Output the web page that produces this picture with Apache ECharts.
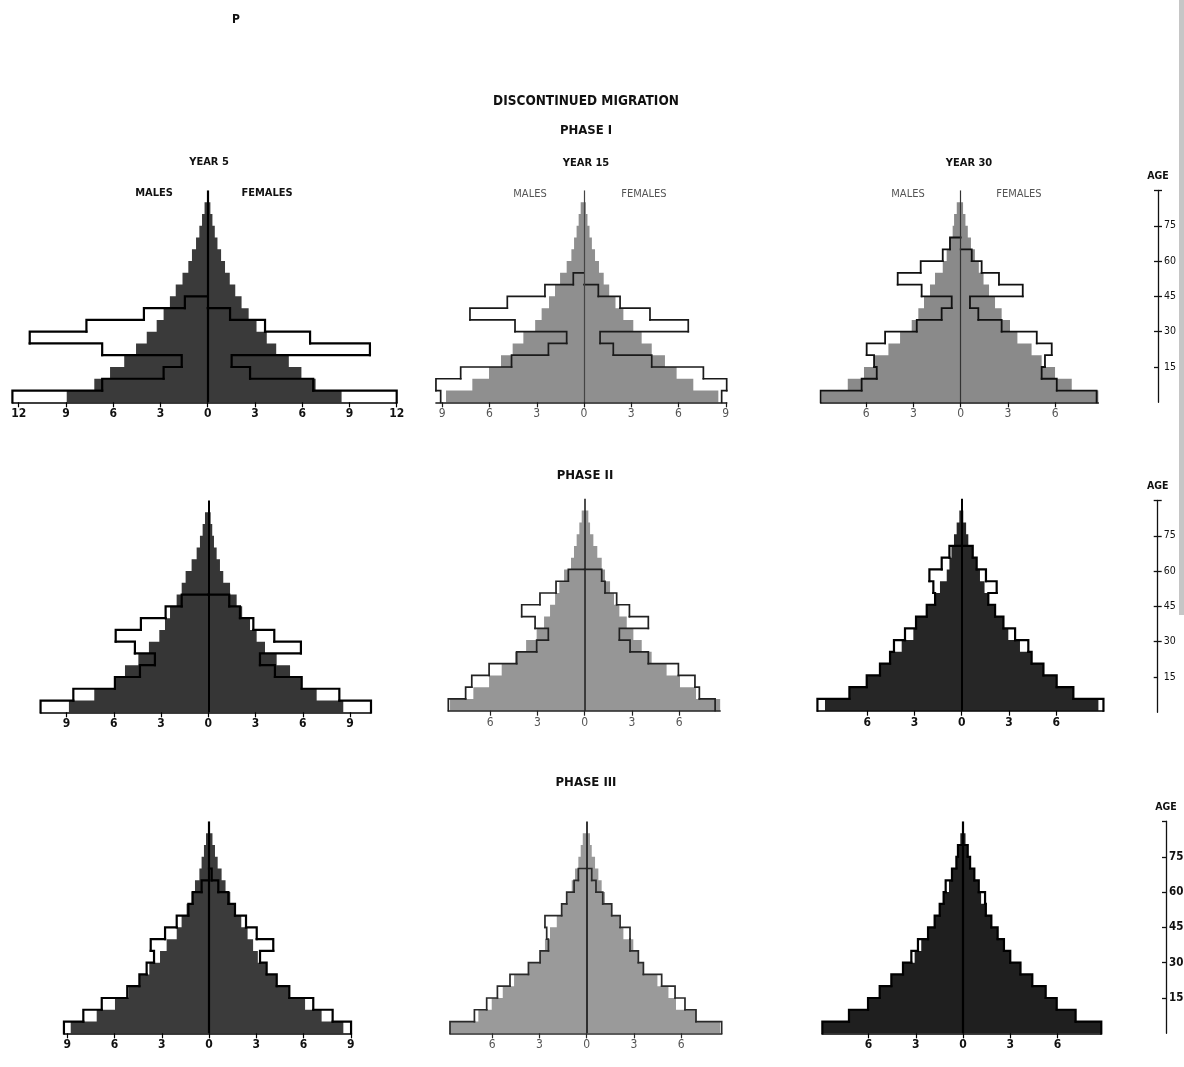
<!DOCTYPE html>
<html><head><meta charset="utf-8">
<script src="https://cdn.jsdelivr.net/npm/echarts@6/dist/echarts.min.js"></script>
<style>html,body{margin:0;padding:0;background:#fff}#c{width:1184px;height:1067px}</style>
</head><body><div id="c"></div>
<script>
// ---------- DATA (percent of total population per 5-year age group) ----------
const AGE_GROUPS = ['0-4','5-9','10-14','15-19','20-24','25-29','30-34','35-39','40-44','45-49','50-54','55-59','60-64','65-69','70-74','75-79','80-84','85-89'];
const AGE_TICKS = [15, 30, 45, 60, 75];
const AGE_MARKS = [15, 30, 45, 60, 75, 90];
const TICKS_12 = [-12, -9, -6, -3, 0, 3, 6, 9, 12];
const TICKS_9 = [-9, -6, -3, 0, 3, 6, 9];
const TICKS_6 = [-6, -3, 0, 3, 6];

// Phase I
const p1y5MaleFill = [8.95, 7.2, 6.2, 5.3, 4.55, 3.87, 3.24, 2.8, 2.4, 2.03, 1.6, 1.23, 1.0, 0.74, 0.53, 0.36, 0.2];
const p1y5FemaleFill = [8.5, 6.85, 5.95, 5.15, 4.35, 3.75, 3.1, 2.6, 2.15, 1.75, 1.4, 1.1, 0.85, 0.62, 0.45, 0.3, 0.17];
const p1y5MaleOutline = [12.4, 6.7, 2.8, 1.65, 6.7, 11.3, 7.7, 4.05, 1.45];
const p1y5FemaleOutline = [12.0, 6.7, 2.69, 1.52, 10.3, 6.5, 3.64, 1.42];

const p1y15MaleFill = [8.76, 7.09, 6.03, 5.27, 4.53, 3.85, 3.1, 2.69, 2.22, 1.84, 1.52, 1.1, 0.8, 0.63, 0.47, 0.34, 0.21];
const p1y15FemaleFill = [8.53, 6.94, 5.88, 5.14, 4.3, 3.66, 3.13, 2.5, 2.0, 1.6, 1.25, 0.95, 0.7, 0.5, 0.35, 0.22, 0.12];
const p1y15MaleOutline = [9.1, 9.4, 7.83, 4.6, 2.26, 1.1, 4.38, 7.24, 4.87, 2.48, 0.68];
const p1y15FemaleOutline = [8.74, 9.06, 7.58, 4.3, 1.86, 1.02, 6.62, 4.19, 2.29, 0.91];

const p1y30MaleFill = [8.83, 7.17, 6.14, 5.5, 4.59, 3.85, 3.11, 2.69, 2.33, 1.95, 1.63, 1.14, 0.89, 0.72, 0.51, 0.42, 0.25];
const p1y30FemaleFill = [8.74, 7.05, 5.99, 5.14, 4.5, 3.6, 3.13, 2.6, 2.18, 1.8, 1.45, 1.15, 0.9, 0.65, 0.45, 0.3, 0.15];
const p1y30MaleOutline = [8.89, 6.29, 5.33, 5.5, 5.97, 4.8, 2.79, 1.21, 0.57, 2.48, 4.0, 2.54, 1.14, 0.68];
const p1y30FemaleOutline = [8.63, 6.1, 5.14, 5.35, 5.78, 4.83, 2.6, 1.12, 0.59, 3.94, 2.43, 1.33, 0.7];

// Phase II
const p2y5MaleFill = [8.85, 7.24, 5.93, 5.29, 4.44, 3.77, 3.11, 2.75, 2.43, 2.01, 1.69, 1.44, 1.06, 0.74, 0.53, 0.36, 0.21];
const p2y5FemaleFill = [8.57, 6.88, 5.93, 5.19, 4.34, 3.6, 3.07, 2.65, 2.15, 1.8, 1.38, 0.95, 0.74, 0.53, 0.36, 0.25, 0.15];
const p2y5MaleOutline = [10.65, 8.57, 5.93, 4.34, 3.39, 4.66, 5.88, 4.28, 2.71, 1.69];
const p2y5FemaleOutline = [10.33, 8.32, 5.93, 4.23, 3.28, 5.88, 4.19, 2.86, 2.01, 1.33];

const p2y15MaleFill = [8.55, 7.07, 6.07, 5.27, 4.42, 3.72, 3.05, 2.58, 2.2, 1.88, 1.61, 1.31, 0.87, 0.68, 0.51, 0.34, 0.19];
const p2y15FemaleFill = [8.6, 7.07, 6.05, 5.2, 4.25, 3.62, 3.09, 2.67, 2.2, 1.86, 1.61, 1.29, 1.08, 0.8, 0.55, 0.34, 0.23];
const p2y15MaleOutline = [8.66, 7.56, 7.17, 6.07, 4.32, 3.05, 2.31, 3.15, 4.0, 2.84, 1.82, 1.04];
const p2y15FemaleOutline = [8.28, 7.28, 7.0, 5.95, 4.04, 2.88, 2.2, 4.04, 2.84, 2.03, 1.29, 1.08];

const p2y30MaleFill = [8.68, 7.13, 6.03, 5.19, 4.55, 3.81, 3.07, 2.9, 2.22, 1.69, 1.38, 0.95, 0.78, 0.65, 0.49, 0.32, 0.15];
const p2y30FemaleFill = [8.68, 7.09, 6.03, 5.19, 4.44, 3.7, 2.96, 2.65, 2.12, 1.69, 1.45, 1.16, 0.95, 0.7, 0.42, 0.28, 0.1];
const p2y30MaleOutline = [9.16, 7.13, 6.03, 5.19, 4.55, 4.3, 3.6, 2.9, 2.22, 1.69, 1.8, 2.05, 1.27, 0.78];
const p2y30FemaleOutline = [9.0, 7.09, 6.03, 5.19, 4.44, 4.23, 3.39, 2.65, 2.12, 1.69, 2.22, 1.54, 0.95, 0.7];

// Phase III
const p3y5MaleFill = [8.78, 7.13, 5.97, 5.12, 4.42, 3.79, 3.11, 2.69, 2.05, 1.74, 1.42, 1.1, 0.89, 0.61, 0.47, 0.32, 0.19];
const p3y5FemaleFill = [8.53, 7.15, 6.1, 5.1, 4.3, 3.66, 3.1, 2.8, 2.45, 2.05, 1.7, 1.35, 1.05, 0.8, 0.55, 0.38, 0.22];
const p3y5MaleOutline = [9.21, 7.98, 6.81, 5.19, 4.42, 3.96, 3.49, 3.7, 2.79, 2.05, 1.31, 1.04, 0.47];
const p3y5FemaleOutline = [9.02, 7.85, 6.62, 5.1, 4.3, 3.66, 3.24, 4.08, 3.03, 2.35, 1.65, 1.23, 0.59, 0.17];

const p3y15MaleFill = [8.68, 6.88, 6.03, 5.33, 4.61, 3.7, 2.96, 2.65, 2.33, 1.9, 1.59, 1.27, 0.95, 0.74, 0.53, 0.38, 0.25];
const p3y15FemaleFill = [8.47, 6.94, 5.67, 5.19, 4.49, 3.6, 3.28, 2.96, 2.33, 2.07, 1.59, 1.16, 0.95, 0.74, 0.53, 0.32, 0.21];
const p3y15MaleOutline = [8.68, 7.13, 6.35, 5.67, 4.87, 3.7, 2.96, 2.43, 2.54, 2.65, 1.59, 1.27, 0.8, 0.53];
const p3y15FemaleOutline = [8.57, 6.94, 6.24, 5.61, 4.76, 3.6, 3.28, 2.75, 2.75, 2.12, 1.59, 1.02, 0.59, 0.32];

const p3y30MaleFill = [8.93, 7.24, 6.03, 5.29, 4.55, 3.81, 3.07, 2.65, 2.22, 1.8, 1.48, 1.23, 0.89, 0.7, 0.42, 0.32, 0.17];
const p3y30FemaleFill = [8.78, 7.15, 5.95, 5.25, 4.4, 3.65, 3.0, 2.6, 2.2, 1.8, 1.45, 1.15, 0.95, 0.72, 0.45, 0.3, 0.16];
const p3y30MaleOutline = [8.93, 7.24, 6.03, 5.29, 4.55, 3.81, 3.28, 2.86, 2.22, 1.8, 1.48, 1.23, 1.1, 0.7, 0.42, 0.32];
const p3y30FemaleOutline = [8.78, 7.15, 5.95, 5.25, 4.4, 3.65, 3.0, 2.6, 2.2, 1.8, 1.45, 1.4, 1.0, 0.72, 0.45, 0.3];

// ---------- LAYOUT / STYLE ----------
const FONT = '"Liberation Sans Narrow","Arial Narrow","DejaVu Sans Condensed",sans-serif';
const S = 15.75;      // px per percent
const BAND = 11.77;   // px per 5-year age group

const BOLD = {label: '#111', weight: 'bold'};
const THIN = {label: '#555', weight: 'normal'};
const panels = [
  {cx: 207.7, base: 402.3, ticks: TICKS_12, d: [p1y5MaleFill, p1y5FemaleFill, p1y5MaleOutline, p1y5FemaleOutline], fill: '#3a3a3a', ink: '#000', lw: 2.2, cc: '#000', cw: 2.2, t: BOLD},
  {cx: 584.0, base: 402.3, ticks: TICKS_9, d: [p1y15MaleFill, p1y15FemaleFill, p1y15MaleOutline, p1y15FemaleOutline], fill: '#8f8f8f', ink: '#1a1a1a', lw: 1.7, cc: '#444', cw: 1.2, t: THIN},
  {cx: 960.7, base: 402.3, ticks: TICKS_6, d: [p1y30MaleFill, p1y30FemaleFill, p1y30MaleOutline, p1y30FemaleOutline], fill: '#8a8a8a', ink: '#111', lw: 1.8, cc: '#333', cw: 1.2, t: THIN},
  {cx: 208.3, base: 712.3, ticks: TICKS_9, d: [p2y5MaleFill, p2y5FemaleFill, p2y5MaleOutline, p2y5FemaleOutline], fill: '#363636', ink: '#000', lw: 2.2, cc: '#000', cw: 2.0, t: BOLD},
  {cx: 584.7, base: 710.7, ticks: TICKS_6, d: [p2y15MaleFill, p2y15FemaleFill, p2y15MaleOutline, p2y15FemaleOutline], fill: '#969696', ink: '#222', lw: 1.7, cc: '#222', cw: 1.6, t: THIN},
  {cx: 961.7, base: 710.7, ticks: TICKS_6, d: [p2y30MaleFill, p2y30FemaleFill, p2y30MaleOutline, p2y30FemaleOutline], fill: '#262626', ink: '#000', lw: 2.2, cc: '#000', cw: 2.0, t: BOLD},
  {cx: 209.0, base: 1033.3, ticks: TICKS_9, d: [p3y5MaleFill, p3y5FemaleFill, p3y5MaleOutline, p3y5FemaleOutline], fill: '#3b3b3b', ink: '#000', lw: 2.2, cc: '#000', cw: 2.2, t: BOLD},
  {cx: 586.7, base: 1033.3, ticks: TICKS_6, d: [p3y15MaleFill, p3y15FemaleFill, p3y15MaleOutline, p3y15FemaleOutline], fill: '#9a9a9a', ink: '#2a2a2a', lw: 1.7, cc: '#222', cw: 1.8, t: THIN},
  {cx: 963.0, base: 1033.3, ticks: TICKS_6, d: [p3y30MaleFill, p3y30FemaleFill, p3y30MaleOutline, p3y30FemaleOutline], fill: '#1f1f1f', ink: '#000', lw: 2.2, cc: '#000', cw: 2.2, t: BOLD}
];
const ageAxes = [
  {x: 1158, base: 402.3, size: 10.5, weight: 'normal'},
  {x: 1157.7, base: 712.3, size: 10.5, weight: 'normal'},
  {x: 1166, base: 1033.3, size: 11.5, weight: 'bold'}
];

const grid = [], xAxis = [], yAxis = [], series = [];
const H = AGE_GROUPS.length * BAND;

// Filled pyramid half: one stepped polygon built from all age groups (no seams between groups)
function fillRenderer(arr, sign, color) {
  return function (params, api) {
    if (params.dataIndex !== 0) return null;
    const band = api.size([0, 1])[1];
    const pts = [];
    const c0 = api.coord([0, 0]);
    pts.push([c0[0], c0[1] + band / 2]);
    for (let j = 0; j < arr.length; j++) {
      const c = api.coord([sign * arr[j], j]);
      pts.push([c[0], c[1] + band / 2]);
      pts.push([c[0], c[1] - band / 2]);
    }
    const cl = api.coord([0, arr.length - 1]);
    pts.push([cl[0], cl[1] - band / 2]);
    return {type: 'polygon', shape: {points: pts}, style: {fill: color, stroke: null}};
  };
}

// Outline envelope: per age group, its outer edge plus the step to the next group
function outlineRenderer(arr, sign, ink, lw) {
  return function (params, api) {
    const i = params.dataIndex;
    const next = i + 1 < arr.length ? sign * arr[i + 1] : 0;
    const c = api.coord([api.value(0), api.value(1)]);
    const band = api.size([0, 1])[1];
    const yb = c[1] + band / 2, yt = c[1] - band / 2;
    const xn = api.coord([next, api.value(1)])[0];
    return {
      type: 'polyline',
      shape: {points: [[c[0], yb], [c[0], yt], [xn, yt]]},
      style: {stroke: ink, lineWidth: lw, fill: null, lineCap: 'square', lineJoin: 'miter'}
    };
  };
}

panels.forEach((p, k) => {
  const [mf, ff, mo, fo] = p.d;
  const xmin = -Math.max(...mf, ...mo), xmax = Math.max(...ff, ...fo);
  grid.push({left: p.cx + xmin * S, width: (xmax - xmin) * S, top: p.base - H, height: H});
  xAxis.push({
    gridIndex: k, type: 'value', min: xmin, max: xmax, z: 6,
    axisLine: {show: true, lineStyle: {color: p.ink, width: 1.6}},
    axisTick: {show: true, customValues: p.ticks, length: 5, lineStyle: {color: p.ink, width: 1.2}},
    axisLabel: {customValues: p.ticks, formatter: v => String(Math.abs(v)), color: p.t.label, fontWeight: p.t.weight, fontSize: 12, fontFamily: FONT, margin: 6},
    splitLine: {show: false}
  });
  yAxis.push({gridIndex: k, type: 'category', data: AGE_GROUPS, show: false});
  series.push({type: 'custom', name: 'males' + k, xAxisIndex: k, yAxisIndex: k, z: 2, silent: true,
    data: mf.map((v, i) => [-v, i]), encode: {x: 0, y: 1}, renderItem: fillRenderer(mf, -1, p.fill)});
  series.push({type: 'custom', name: 'females' + k, xAxisIndex: k, yAxisIndex: k, z: 2, silent: true,
    data: ff.map((v, i) => [v, i]), encode: {x: 0, y: 1}, renderItem: fillRenderer(ff, 1, p.fill),
    markLine: {silent: true, symbol: ['none', 'none'], label: {show: false}, animation: false,
      lineStyle: {color: p.cc, width: p.cw, type: 'solid'}, emphasis: {disabled: true}, data: [{xAxis: 0}]}});
  series.push({type: 'custom', xAxisIndex: k, yAxisIndex: k, z: 3, silent: true,
    data: mo.map((v, i) => [-v, i]), encode: {x: 0, y: 1}, renderItem: outlineRenderer(mo, -1, p.ink, p.lw)});
  series.push({type: 'custom', xAxisIndex: k, yAxisIndex: k, z: 3, silent: true,
    data: fo.map((v, i) => [v, i]), encode: {x: 0, y: 1}, renderItem: outlineRenderer(fo, 1, p.ink, p.lw)});
});

// Age scales: axis line with ticks to the left and short split lines to the right -> crosses
ageAxes.forEach(a => {
  const k = grid.length;
  grid.push({left: a.x, width: 4, top: a.base - H, height: H});
  xAxis.push({gridIndex: k, type: 'value', min: 0, max: 1, show: false});
  yAxis.push({
    gridIndex: k, type: 'value', min: 0, max: 90, interval: 15, position: 'left',
    name: 'AGE', nameLocation: 'end', nameGap: 9,
    nameTextStyle: {fontFamily: FONT, fontWeight: 'bold', fontSize: 10.5, color: '#111'},
    axisLine: {show: true, onZero: false, lineStyle: {color: '#111', width: 1.3}},
    axisTick: {show: true, customValues: AGE_MARKS, length: 4, lineStyle: {color: '#111', width: 1.3}},
    splitLine: {show: true, showMinLine: false, lineStyle: {color: '#111', width: 1.3}},
    axisLabel: {show: false}
  });
  yAxis.push({
    gridIndex: k, type: 'value', min: 0, max: 90, interval: 15, position: 'right',
    axisLine: {show: false, onZero: false}, axisTick: {show: false}, splitLine: {show: false},
    axisLabel: {customValues: AGE_TICKS, margin: 2, fontSize: a.size, fontWeight: a.weight, fontFamily: FONT, color: '#111'}
  });
});

function txt(text, x, y, size, weight, color) {
  return {type: 'text', x: x, y: y, silent: true,
    style: {text: text, fill: color || '#111', font: (weight || 'bold') + ' ' + size + 'px ' + FONT, textAlign: 'center', textVerticalAlign: 'middle'}};
}
const graphic = [
  {type: 'rect', silent: true, shape: {x: 1179, y: 0, width: 5, height: 615}, style: {fill: '#c6c6c6'}},
  txt('P', 236, 20, 12),
  txt('DISCONTINUED MIGRATION', 586, 101, 13.5),
  txt('PHASE I', 586, 131, 13),
  txt('PHASE II', 585, 476, 13),
  txt('PHASE III', 586, 783, 13),
  txt('YEAR 5', 209, 162, 11),
  txt('YEAR 15', 586, 163, 11),
  txt('YEAR 30', 969, 163, 11),
  txt('MALES', 154, 193, 11),
  txt('FEMALES', 267, 193, 11),
  txt('MALES', 530, 194, 11, 'normal', '#555'),
  txt('FEMALES', 644, 194, 11, 'normal', '#555'),
  txt('MALES', 908, 194, 11, 'normal', '#555'),
  txt('FEMALES', 1019, 194, 11, 'normal', '#555')
];

const chart = echarts.init(document.getElementById('c'), null, {renderer: 'canvas'});
chart.setOption({animation: false, backgroundColor: '#fff', grid, xAxis, yAxis, series, graphic});
</script></body></html>
